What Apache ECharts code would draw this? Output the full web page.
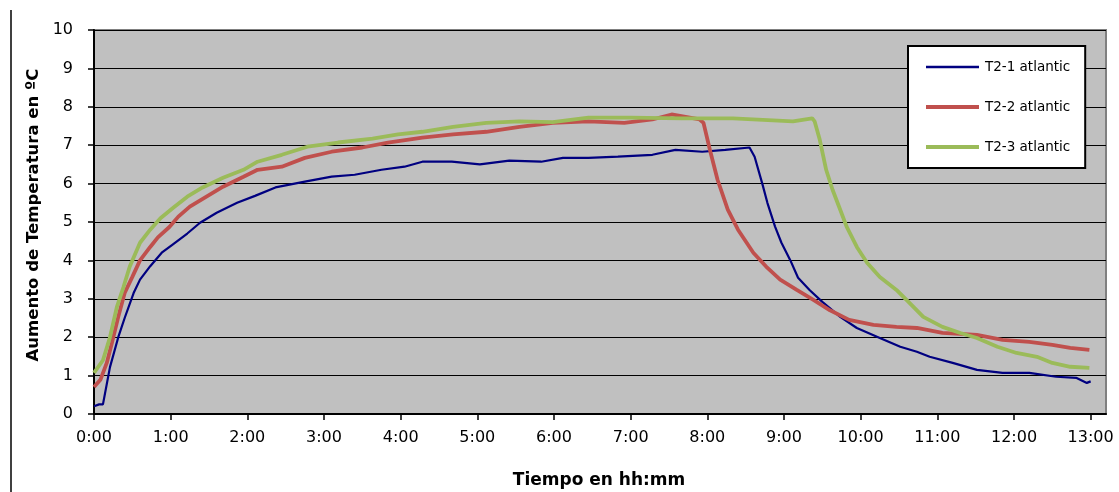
<!DOCTYPE html>
<html>
<head>
<meta charset="utf-8">
<script src="https://cdn.jsdelivr.net/npm/echarts@6/dist/echarts.min.js"></script>
<style>
html,body{margin:0;padding:0;background:#fff;}
#chart{width:1119px;height:492px;}
</style>
</head>
<body>
<div id="chart"></div>
<script>
// Time in minutes since start, temperature rise in °C
const seriesNames = ['T2-1 atlantic', 'T2-2 atlantic', 'T2-3 atlantic'];

const blueTime = [0, 4, 7, 12.5, 19, 24, 31, 36, 44, 53, 61, 73, 83, 96, 112, 126, 142, 165, 186, 204, 225, 243, 257, 280, 302, 325, 350, 367, 387, 410, 437, 455, 476, 494, 513, 517, 523, 527, 533, 538, 545, 551, 560, 570, 584, 597, 615, 631, 644, 654, 672, 691, 711, 732, 753, 769, 777, 780];
const blueTemp = [0.2, 0.25, 0.25, 1.22, 2.0, 2.5, 3.15, 3.5, 3.85, 4.2, 4.4, 4.7, 4.98, 5.24, 5.5, 5.68, 5.9, 6.05, 6.18, 6.23, 6.36, 6.44, 6.57, 6.57, 6.5, 6.6, 6.57, 6.67, 6.67, 6.7, 6.75, 6.88, 6.83, 6.88, 6.94, 6.7, 6.0, 5.5, 4.88, 4.46, 4.0, 3.55, 3.23, 2.92, 2.53, 2.24, 1.98, 1.75, 1.62, 1.49, 1.33, 1.15, 1.07, 1.07, 0.97, 0.94, 0.81, 0.85];

const redTime = [0, 5, 10, 14, 19, 24, 30, 36, 44, 50, 59, 66, 75, 88, 101, 117, 128, 147, 165, 186, 210, 230, 257, 281, 307, 333, 359, 387, 415, 437, 452, 474, 477, 482, 488, 496, 504, 516, 526, 537, 550, 563, 576, 591, 610, 628, 644, 664, 691, 711, 732, 750, 764, 779];
const redTemp = [0.7, 0.89, 1.33, 1.85, 2.53, 3.15, 3.57, 4.0, 4.35, 4.6, 4.87, 5.14, 5.4, 5.66, 5.92, 6.18, 6.36, 6.44, 6.67, 6.83, 6.94, 7.07, 7.2, 7.28, 7.35, 7.48, 7.58, 7.62, 7.58, 7.67, 7.8, 7.67, 7.58, 6.88, 6.1, 5.32, 4.8, 4.2, 3.84, 3.5, 3.23, 2.97, 2.7, 2.45, 2.32, 2.27, 2.24, 2.11, 2.06, 1.93, 1.88, 1.8, 1.72, 1.67];

const greenTime = [0, 7, 12.5, 18, 23, 28, 36, 44, 52, 62, 73, 85, 101, 117, 128, 147, 167, 191, 218, 238, 257, 281, 307, 333, 359, 387, 420, 460, 500, 547, 562, 564, 568, 573, 578, 584, 589, 597, 605, 615, 628, 638, 649, 664, 678, 691, 707, 722, 738, 750, 764, 779];
const greenTemp = [1.07, 1.4, 2.0, 2.8, 3.3, 3.84, 4.46, 4.8, 5.1, 5.37, 5.66, 5.9, 6.15, 6.36, 6.57, 6.75, 6.96, 7.07, 7.17, 7.28, 7.35, 7.48, 7.58, 7.62, 7.6, 7.72, 7.72, 7.7, 7.7, 7.62, 7.7, 7.62, 7.14, 6.36, 5.84, 5.32, 4.88, 4.35, 3.94, 3.57, 3.23, 2.9, 2.53, 2.27, 2.11, 1.98, 1.75, 1.59, 1.49, 1.33, 1.23, 1.2];

const xTickValues = [0, 60, 120, 180, 240, 300, 360, 420, 480, 540, 600, 660, 720, 780];
const xTickLabels = ['0:00', '1:00', '2:00', '3:00', '4:00', '5:00', '6:00', '7:00', '8:00', '9:00', '10:00', '11:00', '12:00', '13:00'];
const yTickLabels = ['0', '1', '2', '3', '4', '5', '6', '7', '8', '9', '10'];

function pairs(ts, vs) { return ts.map((t, i) => [t, vs[i]]); }

const chart = echarts.init(document.getElementById('chart'));
const tickFont = { fontFamily: 'DejaVu Sans', fontSize: 16, color: '#000' };

chart.setOption({
  animation: false,
  backgroundColor: '#fff',
  grid: {
    left: 94, right: 13, top: 30, bottom: 78,
    show: true, backgroundColor: '#C0C0C0', borderColor: '#808080', borderWidth: 2
  },
  legend: {
    orient: 'vertical',
    left: 908, top: 46,
    backgroundColor: '#fff', borderColor: '#000', borderWidth: 2,
    padding: [13, 15, 13, 18],
    itemWidth: 53, itemHeight: 16, itemGap: 24,
    selectedMode: false,
    textStyle: { fontFamily: 'DejaVu Sans', fontSize: 13.5, color: '#000', lineHeight: 16, padding: [0, 0, 0, 1] },
    data: [
      { name: seriesNames[0], icon: 'path://M0,0H53V2.5H0Z' },
      { name: seriesNames[1], icon: 'path://M0,0H53V4H0Z' },
      { name: seriesNames[2], icon: 'path://M0,0H53V4H0Z' }
    ]
  },
  xAxis: {
    type: 'value', min: 0, max: 792,
    axisLine: { show: true, lineStyle: { color: '#000', width: 2 } },
    axisTick: { show: true, customValues: xTickValues, length: 6, lineStyle: { color: '#000', width: 1.5 } },
    axisLabel: Object.assign({
      customValues: xTickValues, margin: 16,
      formatter: v => xTickLabels[xTickValues.indexOf(v)] || ''
    }, tickFont),
    splitLine: { show: false }
  },
  yAxis: {
    type: 'value', min: 0, max: 10, interval: 1,
    axisLine: { show: true, lineStyle: { color: '#000', width: 2 } },
    axisTick: { show: true, length: 6, lineStyle: { color: '#000', width: 1.5 } },
    axisLabel: Object.assign({ margin: 21, formatter: v => yTickLabels[v] }, tickFont),
    splitLine: { show: true, lineStyle: { color: '#000', width: 1.2 } }
  },
  graphic: [
    { type: 'line', shape: { x1: 11, y1: 10, x2: 11, y2: 492 }, style: { stroke: '#000', lineWidth: 1.5 } },
    { type: 'text', x: 599, y: 481, style: { text: 'Tiempo en hh:mm', font: 'bold 17px "DejaVu Sans"', fill: '#000', textAlign: 'center', textVerticalAlign: 'middle' } },
    { type: 'text', x: 34, y: 215, rotation: Math.PI / 2, style: { text: 'Aumento de Temperatura en ºC', font: 'bold 16.5px "DejaVu Sans"', fill: '#000', textAlign: 'center', textVerticalAlign: 'middle' } }
  ],
  series: [
    { name: seriesNames[0], type: 'line', symbol: 'none', data: pairs(blueTime, blueTemp),
      lineStyle: { color: '#000080', width: 2.2 }, itemStyle: { color: '#000080' } },
    { name: seriesNames[1], type: 'line', symbol: 'none', data: pairs(redTime, redTemp),
      lineStyle: { color: '#C0504D', width: 3.8 }, itemStyle: { color: '#C0504D' } },
    { name: seriesNames[2], type: 'line', symbol: 'none', data: pairs(greenTime, greenTemp),
      lineStyle: { color: '#9BBB59', width: 3.8 }, itemStyle: { color: '#9BBB59' } }
  ]
});
</script>
</body>
</html>
